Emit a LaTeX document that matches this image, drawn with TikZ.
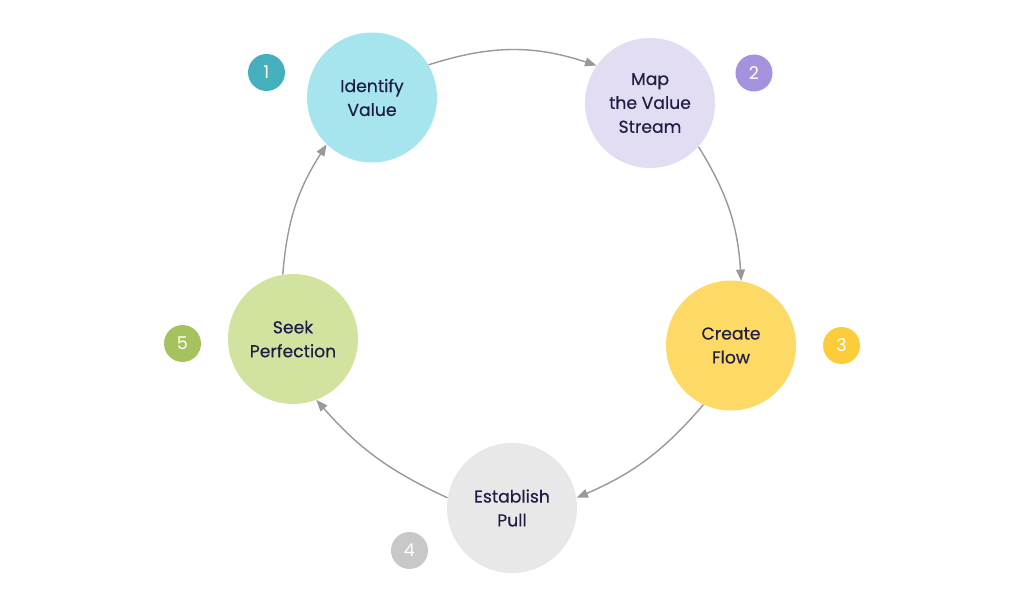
\documentclass[tikz,border=0pt]{standalone}
\usepackage{fontspec}
\setmainfont{Poppins}
\newfontfamily\stagefont{Poppins}[FakeBold=0.4]
\usetikzlibrary{arrows.meta}
\definecolor{cOne}{HTML}{A6E5EE}
\definecolor{bOne}{HTML}{45AFBD}
\definecolor{cTwo}{HTML}{E2DDF2}
\definecolor{bTwo}{HTML}{A592DE}
\definecolor{cThree}{HTML}{FDD966}
\definecolor{bThree}{HTML}{FDCC3A}
\definecolor{cFour}{HTML}{E8E8E8}
\definecolor{bFour}{HTML}{C8C8C8}
\definecolor{cFive}{HTML}{D2E3A0}
\definecolor{bFive}{HTML}{A5C25F}
\definecolor{txt}{HTML}{1F1D45}
\definecolor{arr}{HTML}{999999}
\tikzset{
  stage/.style={circle, minimum size=2.6cm, inner sep=0pt, text=txt, align=center,
    font=\stagefont\fontsize{9.8}{13.6}\selectfont},
  badge/.style={circle, minimum size=0.74cm, inner sep=0pt, text=white,
    font=\fontsize{10}{11}\selectfont},
  flow/.style={draw=arr, line width=0.8pt, -{Triangle[length=6.5pt,width=5pt]}}
}
\begin{document}
\begin{tikzpicture}[x=0.02cm,y=-0.02cm]
\useasboundingbox[fill=white] (0,0) rectangle (1024,597);
\node[stage, fill=cOne] (s1) at (372,97.5) {Identify\\Value};
\node[stage, fill=cTwo] (s2) at (650,103) {Map\\the Value\\Stream};
\node[stage, fill=cThree] (s3) at (731,345.5) {Create\\Flow};
\node[stage, fill=cFour] (s4) at (512,508) {Establish\\Pull};
\node[stage, fill=cFive] (s5) at (293,339) {Seek\\Perfection};
\node[badge, fill=bOne] (b1) at (266.5,72.5) {1};
\node[badge, fill=bTwo] (b2) at (754,73) {2};
\node[badge, fill=bThree] (b3) at (841.5,345.5) {3};
\node[badge, fill=bFour] (b4) at (409.5,550.5) {4};
\node[badge, fill=bFive] (b5) at (182.5,343.5) {5};
\draw[flow] (s1.30) to[bend left=18] (s2.145);
\draw[flow] (s2.-42) to[bend left=14] (s3.81);
\draw[flow] (s3.-115) to[bend left=13] (s4.9);
\draw[flow] (s4.171) to[bend left=12] (s5.-69);
\draw[flow] (s5.99) to[bend left=14] (s1.-134);
\end{tikzpicture}
\end{document}
